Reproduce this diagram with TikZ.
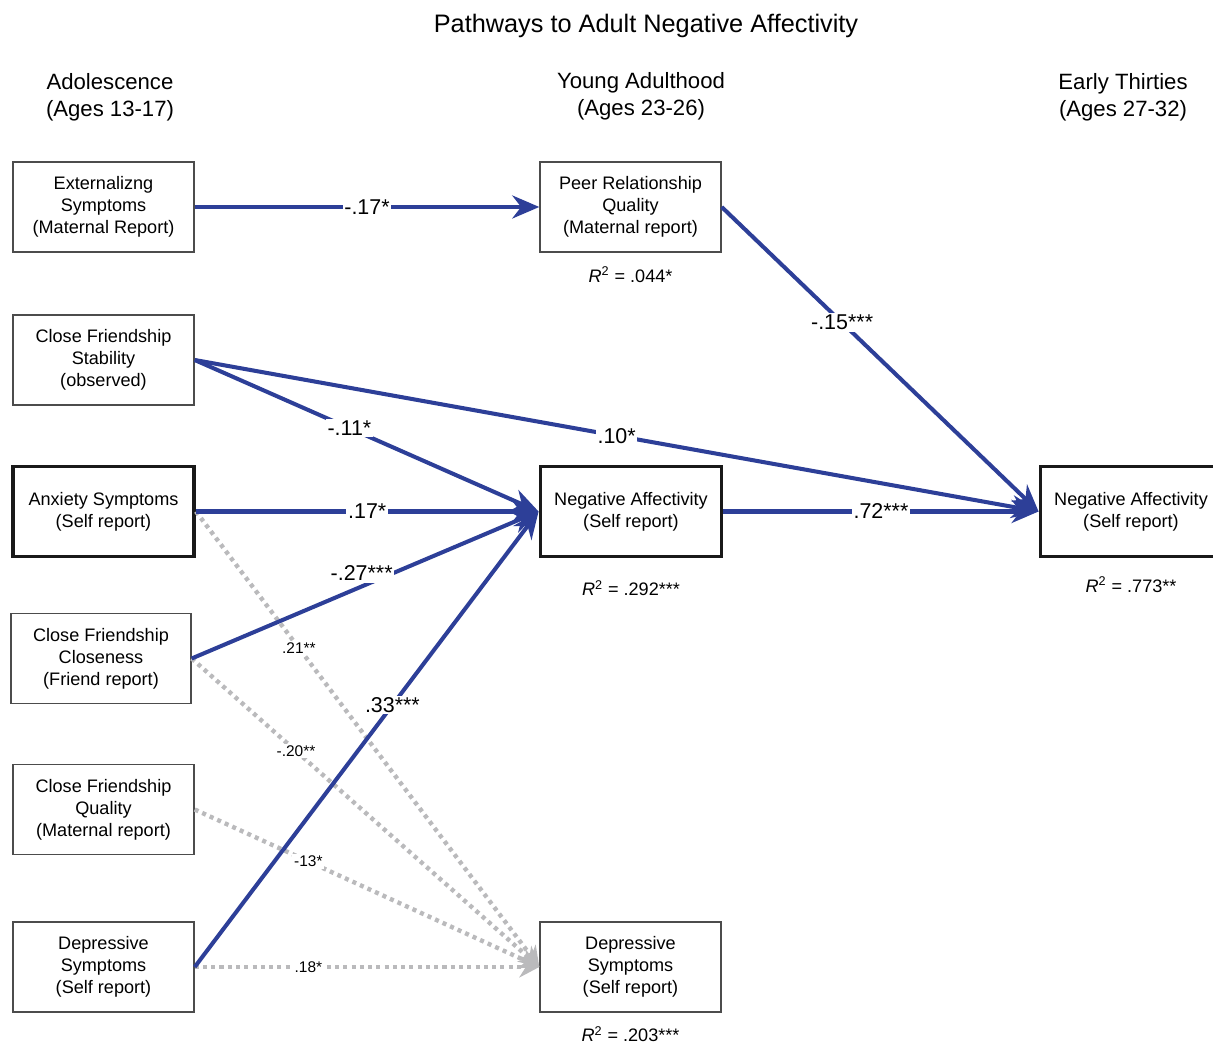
\documentclass[tikz,border=0pt]{standalone}
\usepackage{fontspec}
\setmainfont{Liberation Sans}
\usetikzlibrary{arrows.meta}
\usetikzlibrary{positioning}
\definecolor{pathblue}{RGB}{45,63,152}
\definecolor{pathgray}{RGB}{186,186,188}
\tikzset{measure/.style={draw=black!70,line width=0.8pt,fill=white,
                       align=center,minimum width=3.62cm,minimum height=1.8cm,
                       font=\fontsize{10.3}{12.5}\selectfont}}
\tikzset{outcome/.style={measure,draw=black!90,line width=2.2pt}}
\tikzset{sig/.style={draw=pathblue,line width=2.3pt,
                     -{Stealth[length=5.4mm,width=4.6mm]}}}
\tikzset{nonsig/.style={draw=pathgray,line width=2.5pt,dash pattern=on 2.3pt off 2.4pt,
                        -{Stealth[length=4mm,width=4.2mm]}}}
\tikzset{coef/.style={fill=white,inner sep=1pt,font=\fontsize{12.2}{14}\selectfont}}
\tikzset{smallcoef/.style={coef,font=\fontsize{8.8}{10}\selectfont}}
\tikzset{rsq/.style={font=\fontsize{10.3}{12}\selectfont}}
\tikzset{heading/.style={align=center,font=\fontsize{12.6}{15.5}\selectfont}}
\newcommand{\rsquare}{\textit{R}\textsuperscript{2}}

\begin{document}
\begin{tikzpicture}

    \useasboundingbox (0,0) rectangle (24.26,20.9);

    \node[heading,font=\fontsize{14.4}{16}\selectfont] (title) at (12.92,20.38)
        {Pathways to Adult Negative Affectivity};
    \node[heading] (teen) at (2.20,18.95) {Adolescence\\(Ages 13-17)};
    \node[heading] (young) at (12.82,18.97) {Young Adulthood\\(Ages 23-26)};
    \node[heading] (thirty) at (22.46,18.95) {Early Thirties\\(Ages 27-32)};

    % adolescence
    \node[measure] (ext) at (2.07,16.76) {Externalizng\\Symptoms\\(Maternal Report)};
    \node[measure] (cfs) at (2.07,13.70) {Close Friendship\\Stability\\(observed)};
    \node[outcome] (anx) at (2.07,10.67) {Anxiety Symptoms\\(Self report)};
    \node[measure,minimum width=3.6cm] (cfc) at (2.02,7.73)
        {Close Friendship\\Closeness\\(Friend report)};
    \node[measure] (cfq) at (2.07,4.71) {Close Friendship\\Quality\\(Maternal report)};
    \node[measure] (dep1) at (2.07,1.56) {Depressive\\Symptoms\\(Self report)};

    % young adulthood
    \node[measure] (peer) at (12.61,16.76) {Peer Relationship\\Quality\\(Maternal report)};
    \node[outcome] (na1) at (12.62,10.67) {Negative Affectivity\\(Self report)};
    \node[measure] (dep2) at (12.61,1.56) {Depressive\\Symptoms\\(Self report)};

    % early thirties
    \node[outcome] (na2) at (22.62,10.67) {Negative Affectivity\\(Self report)};

    \node[rsq,below=1.6mm of peer] (rpeer) {\rsquare{} = .044*};
    \node[rsq,below=3.2mm of na1] (rna1) {\rsquare{} = .292***};
    \node[rsq,below=2.5mm of na2] (rna2) {\rsquare{} = .773**};
    \node[rsq,below=1.5mm of dep2] (rdep2) {\rsquare{} = .203***};

    \draw[nonsig] (anx.east) -- node[smallcoef,pos=.3]{.21**} (dep2.west);
    \draw[nonsig] (cfc.east) -- node[smallcoef,pos=.3]{-.20**} (dep2.west);
    \draw[nonsig] (cfq.east) -- node[smallcoef,pos=.33]{-13*} (dep2.west);
    \draw[nonsig] (dep1.east) -- node[smallcoef,pos=.33]{.18*} (dep2.west);

    \draw[sig] (ext.east) -- node[coef]{-.17*} (peer.west);
    \draw[sig] (peer.east) -- node[coef,pos=.38]{-.15***} (na2.west);
    \draw[sig] (cfs.east) -- node[coef,pos=.45]{-.11*} (na1.west);
    \draw[sig] (cfs.east) -- node[coef]{.10*} (na2.west);
    \draw[sig] (anx.east) -- node[coef]{.17*} (na1.west);
    \draw[sig] (cfc.east) -- node[coef,pos=.49,yshift=2.6mm]{-.27***} (na1.west);
    \draw[sig] (dep1.east) -- node[coef,pos=.575]{.33***} (na1.west);
    \draw[sig] (na1.east) -- node[coef]{.72***} (na2.west);

\end{tikzpicture}
\end{document}
